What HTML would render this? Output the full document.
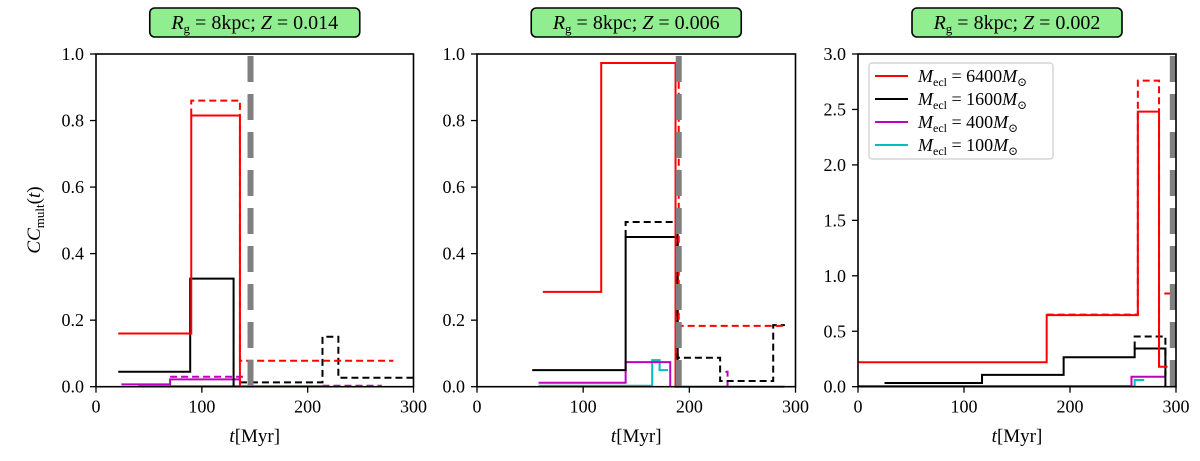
<!DOCTYPE html>
<html><head><meta charset="utf-8"><style>
html,body{margin:0;padding:0;background:#fff}
svg text{font-family:"Liberation Serif","DejaVu Serif",serif;fill:#000}
</style></head><body>
<svg id="fig" width="1200" height="456" viewBox="0 0 1200 456" xmlns="http://www.w3.org/2000/svg"></svg>
<script>
const xTicks=[0,100,200,300];
const yTicksA=[0,0.2,0.4,0.6,0.8,1.0];
const yTicksB=[0,0.5,1.0,1.5,2.0,2.5,3.0];
const titles=["Z = 0.014","Z = 0.006","Z = 0.002"];
const legendLabels=["6400","1600","400","100"];
const legendColors=["#ff0000","#000000","#bf00bf","#00bfbf"];
const ageLines=[146,190,297];
// panel 1 series
const p1RedT=[21,90,136], p1RedV=[0.16,0.815,0];
const p1RedDT=[90,90,136,281], p1RedDV=[0.815,0.86,0.078,0.078];
const p1BlkT=[21,89,130], p1BlkV=[0.045,0.325,0];
const p1BlkDT=[136,214,229,300], p1BlkDV=[0.013,0.15,0.027,0.027];
const p1MagT=[24,70,136], p1MagV=[0.007,0.022,0];
const p1MagDT=[70,141], p1MagDV=[0.03,0.03];
const p1MagD2T=[214,270], p1MagD2V=[0.003,0.003];
const p1CyT=[40,214], p1CyV=[0.002,0.002];
// panel 2 series
const p2RedT=[62,117,187,290], p2RedV=[0.285,0.973,0,0];
const p2RedDT=[187,190,290], p2RedDV=[0.973,0.183,0.183];
const p2BlkT=[52,140,189], p2BlkV=[0.05,0.45,0];
const p2BlkDT=[140,140,189,229,279,290], p2BlkDV=[0.45,0.495,0.087,0.017,0.185,0.185];
const p2MagT=[58,140,182], p2MagV=[0.012,0.074,0];
const p2MagDT=[234,236], p2MagDV=[0.045,0];
const p2CyT=[58,165,172,180], p2CyV=[0.003,0.08,0.05,0.05];
// panel 3 series
const p3RedT=[0,178,264,284,292], p3RedV=[0.22,0.645,2.48,0.18,0.18];
const p3RedDT=[178,264,284], p3RedDV=[0.65,2.76,0.18];
const p3RedD2T=[289,300], p3RedD2V=[0.84,0.84];
const p3BlkT=[25,117,194,261,290], p3BlkV=[0.033,0.107,0.265,0.345,0];
const p3BlkDT=[261,261,290,290], p3BlkDV=[0.345,0.453,0.453,0.1];
const p3MagT=[0,258,290], p3MagV=[0.005,0.09,0.09];
const p3CyT=[0,261,270], p3CyV=[0.003,0.06,0.06];

const NS="http://www.w3.org/2000/svg";
const svg=document.getElementById('fig');
function mk(tag,attrs,parent){const e=document.createElementNS(NS,tag);for(const k in attrs)e.setAttribute(k,attrs[k]);(parent||svg).appendChild(e);return e;}
const panels=[
 {left:96,right:413.5,ymax:1,yt:yTicksA,
  series:[[p1CyT,p1CyV,'#00bfbf',0],[p1MagT,p1MagV,'#bf00bf',0],[p1MagDT,p1MagDV,'#bf00bf',1],[p1MagD2T,p1MagD2V,'#bf00bf',1],[p1BlkT,p1BlkV,'#000',0],[p1BlkDT,p1BlkDV,'#000',1],[p1RedT,p1RedV,'#ff0000',0],[p1RedDT,p1RedDV,'#ff0000',1]]},
 {left:477,right:795.5,ymax:1,yt:yTicksA,
  series:[[p2CyT,p2CyV,'#00bfbf',0],[p2MagT,p2MagV,'#bf00bf',0],[p2MagDT,p2MagDV,'#bf00bf',1],[p2BlkT,p2BlkV,'#000',0],[p2BlkDT,p2BlkDV,'#000',1],[p2RedT,p2RedV,'#ff0000',0],[p2RedDT,p2RedDV,'#ff0000',1]]},
 {left:858,right:1176,ymax:3,yt:yTicksB,
  series:[[p3CyT,p3CyV,'#00bfbf',0],[p3MagT,p3MagV,'#bf00bf',0],[p3BlkT,p3BlkV,'#000',0],[p3BlkDT,p3BlkDV,'#000',1],[p3RedT,p3RedV,'#ff0000',0],[p3RedDT,p3RedDV,'#ff0000',1],[p3RedD2T,p3RedD2V,'#ff0000',1]]}
];
const TOP=54,BOT=386.7;
panels.forEach((p,i)=>{
  const g=mk('g',{});
  
  
  const sx=t=>p.left+(t/300)*(p.right-p.left);
  const sy=v=>BOT-(v/p.ymax)*(BOT-TOP);
  p.series.forEach((s,j)=>{
    const [T,V,c,d]=s;let pts=[];
    for(let k=0;k<T.length;k++){
      if(k>0)pts.push(sx(T[k])+','+sy(V[k-1]));
      pts.push(sx(T[k])+','+sy(V[k]));
    }
    const pl=mk('polyline',{points:pts.join(' '),fill:'none',stroke:c,'stroke-width':2,'stroke-dasharray':d?'7,4':'none'},g);
    
    
  });
  const al=mk('line',{x1:sx(ageLines[i]),x2:sx(ageLines[i]),y1:TOP+2,y2:BOT,stroke:'#808080','stroke-width':6,'stroke-dasharray':'26,12'},g);
  
  
  const fr=mk('rect',{x:p.left,y:TOP,width:p.right-p.left,height:BOT-TOP,fill:'none',stroke:'#000','stroke-width':1.6},g);
  
  
  xTicks.forEach(t=>{
    mk('line',{x1:sx(t),x2:sx(t),y1:BOT,y2:BOT+6,stroke:'#000','stroke-width':1.3},g);
    const tx=mk('text',{x:sx(t),y:BOT+26,'text-anchor':'middle','font-size':18},g);
    tx.textContent=t;
    
    
  });
  p.yt.forEach(v=>{
    mk('line',{x1:p.left-6,x2:p.left,y1:sy(v),y2:sy(v),stroke:'#000','stroke-width':1.3},g);
    const tx=mk('text',{x:p.left-12,y:sy(v)+6,'text-anchor':'end','font-size':18},g);
    tx.textContent=v.toFixed(1);
    
    
  });
  const xl=mk('text',{x:(p.left+p.right)/2,y:442,'text-anchor':'middle','font-size':19},g);
  xl.innerHTML='<tspan font-style="italic">t</tspan>[Myr]';
  
  
  const cx=(p.left+p.right)/2;
  const tb=mk('rect',{x:cx-105,y:8,width:210,height:29,rx:5,fill:'#90ee90',stroke:'#000','stroke-width':1.6},g);
  
  
  const tt=mk('text',{x:cx,y:29,'text-anchor':'middle','font-size':20},g);
  tt.innerHTML='<tspan font-style="italic">R</tspan><tspan font-size="13" dy="4">g</tspan><tspan dy="-4"> = 8kpc; </tspan><tspan font-style="italic">Z</tspan> = '+titles[i].split('= ')[1];
  
  
});
const yl=mk('text',{x:0,y:0,'text-anchor':'middle','font-size':19,transform:'translate(40,220) rotate(-90)'});
yl.innerHTML='<tspan font-style="italic">CC</tspan><tspan font-size="13" dy="4">mult</tspan><tspan dy="-4">(</tspan><tspan font-style="italic">t</tspan>)';


// legend
const lg=mk('g',{});


mk('rect',{x:869,y:63,width:184,height:96,rx:3,fill:'#fff',stroke:'#ccc','stroke-width':1.2},lg);
legendLabels.forEach((l,i)=>{
  const y=76+i*23;
  const e=mk('g',{},lg);
  
  
  mk('line',{x1:875,x2:908,y1:y,y2:y,stroke:legendColors[i],'stroke-width':2},e);
  const t=mk('text',{x:918,y:y+6,'font-size':18},e);
  t.innerHTML='<tspan font-style="italic">M</tspan><tspan font-size="12" dy="4">ecl</tspan><tspan dy="-4"> = '+l+'</tspan><tspan font-style="italic">M</tspan><tspan font-size="12" dy="4">⊙</tspan>';
});
</script>
</body></html>
